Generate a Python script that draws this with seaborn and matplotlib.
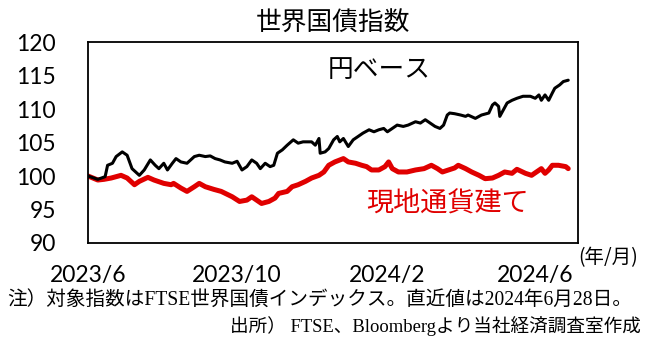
import matplotlib
matplotlib.use("Agg")
import matplotlib.pyplot as plt
import pandas as pd
import seaborn as sns

# 世界国債指数（FTSE世界国債インデックス、2023/6初=100）
title = "世界国債指数"

yen_dates = [
    "2023-06-01", "2023-06-09", "2023-06-15", "2023-06-17", "2023-06-21", "2023-06-24",
    "2023-06-29", "2023-07-03", "2023-07-07", "2023-07-10", "2023-07-13", "2023-07-17",
    "2023-07-22", "2023-07-26", "2023-07-29", "2023-08-02", "2023-08-05", "2023-08-09",
    "2023-08-12", "2023-08-16", "2023-08-21", "2023-08-27", "2023-08-31", "2023-09-05",
    "2023-09-09", "2023-09-13", "2023-09-17", "2023-09-21", "2023-09-27", "2023-10-01",
    "2023-10-05", "2023-10-09", "2023-10-13", "2023-10-17", "2023-10-20", "2023-10-24",
    "2023-10-28", "2023-10-31", "2023-11-03", "2023-11-07", "2023-11-11", "2023-11-16",
    "2023-11-20", "2023-11-24", "2023-12-01", "2023-12-04", "2023-12-07", "2023-12-08",
    "2023-12-12", "2023-12-15", "2023-12-19", "2023-12-22", "2023-12-24", "2023-12-27",
    "2023-12-31", "2024-01-04", "2024-01-08", "2024-01-12", "2024-01-17", "2024-01-21",
    "2024-01-25", "2024-01-29", "2024-02-01", "2024-02-05", "2024-02-09", "2024-02-14",
    "2024-02-18", "2024-02-24", "2024-02-28", "2024-03-03", "2024-03-07", "2024-03-11",
    "2024-03-15", "2024-03-18", "2024-03-21", "2024-03-23", "2024-03-27", "2024-04-01",
    "2024-04-05", "2024-04-07", "2024-04-13", "2024-04-18", "2024-04-24", "2024-04-27",
    "2024-04-29", "2024-05-02", "2024-05-03", "2024-05-06", "2024-05-09", "2024-05-13",
    "2024-05-17", "2024-05-22", "2024-05-28", "2024-06-01", "2024-06-04", "2024-06-06",
    "2024-06-09", "2024-06-12", "2024-06-15", "2024-06-17", "2024-06-21", "2024-06-24",
    "2024-06-28",
]
yen_values = [
    100.0, 99.5, 99.9, 101.6, 101.9, 102.9,
    103.6, 103.1, 101.1, 100.6, 100.1, 100.9,
    102.4, 101.6, 101.1, 101.9, 100.9, 101.9,
    102.6, 102.1, 101.9, 102.9, 103.1, 102.9,
    103.0, 102.6, 102.4, 102.1, 101.9, 102.2,
    100.9, 101.4, 102.4, 101.9, 101.1, 101.9,
    101.4, 101.6, 103.4, 103.9, 104.6, 105.4,
    104.9, 105.1, 105.1, 104.6, 105.6, 103.4,
    103.6, 104.1, 105.4, 105.9, 105.1, 105.6,
    104.4, 105.4, 105.9, 106.4, 106.9, 106.6,
    106.9, 107.1, 106.6, 107.1, 107.6, 107.4,
    107.6, 108.1, 107.9, 108.4, 107.9, 107.4,
    107.1, 107.6, 109.1, 109.4, 109.3, 109.1,
    108.9, 109.1, 108.6, 109.1, 109.4, 110.6,
    110.9, 110.4, 108.9, 109.9, 110.9, 111.3,
    111.6, 111.9, 111.9, 111.6, 112.1, 111.3,
    112.1, 111.3, 112.4, 113.1, 113.6, 114.1,
    114.3,
]

local_dates = [
    "2023-06-01", "2023-06-09", "2023-06-14", "2023-06-20", "2023-06-28", "2023-07-03",
    "2023-07-09", "2023-07-13", "2023-07-20", "2023-07-25", "2023-08-02", "2023-08-08",
    "2023-08-10", "2023-08-16", "2023-08-21", "2023-08-27", "2023-08-31", "2023-09-05",
    "2023-09-12", "2023-09-18", "2023-09-27", "2023-10-03", "2023-10-09", "2023-10-13",
    "2023-10-17", "2023-10-21", "2023-10-27", "2023-11-01", "2023-11-04", "2023-11-11",
    "2023-11-15", "2023-11-20", "2023-11-26", "2023-12-01", "2023-12-07", "2023-12-11",
    "2023-12-15", "2023-12-20", "2023-12-27", "2023-12-31", "2024-01-06", "2024-01-11",
    "2024-01-15", "2024-01-19", "2024-01-25", "2024-01-30", "2024-02-02", "2024-02-05",
    "2024-02-10", "2024-02-17", "2024-02-24", "2024-03-02", "2024-03-08", "2024-03-13",
    "2024-03-17", "2024-03-22", "2024-03-27", "2024-03-30", "2024-04-05", "2024-04-10",
    "2024-04-16", "2024-04-21", "2024-04-27", "2024-05-02", "2024-05-07", "2024-05-13",
    "2024-05-17", "2024-05-24", "2024-05-29", "2024-06-02", "2024-06-06", "2024-06-09",
    "2024-06-12", "2024-06-15", "2024-06-20", "2024-06-26", "2024-06-28",
]
local_values = [
    100.0, 99.4, 99.5, 99.7, 100.1, 99.7,
    98.7, 99.2, 99.8, 99.4, 98.9, 98.7,
    98.9, 98.2, 97.7, 98.4, 98.9, 98.4,
    98.0, 97.7, 96.9, 96.2, 96.4, 96.9,
    96.4, 95.9, 96.2, 96.7, 97.4, 97.7,
    98.4, 98.7, 99.2, 99.7, 100.1, 100.6,
    101.6, 102.1, 102.6, 102.1, 101.9, 101.6,
    101.4, 100.9, 100.9, 101.4, 102.1, 101.1,
    100.6, 100.6, 100.9, 101.1, 101.6, 101.1,
    100.6, 100.9, 101.2, 101.6, 101.1, 100.6,
    100.1, 99.6, 99.7, 100.1, 100.6, 100.4,
    101.0, 100.4, 100.1, 100.6, 101.1, 100.4,
    100.9, 101.6, 101.6, 101.4, 101.1,
]

yen_label = "円ベース"
local_label = "現地通貨建て"
y_ticks = [90, 95, 100, 105, 110, 115, 120]
x_tick_dates = ["2023-06-01", "2023-08-01", "2023-10-01", "2023-12-01",
                "2024-02-01", "2024-04-01", "2024-06-01"]
x_tick_labels = ["2023/6", "", "2023/10", "", "2024/2", "", "2024/6"]
x_range = ["2023-06-01", "2024-07-06"]
unit_label = "(年/月)"
note_text = "注）対象指数はFTSE世界国債インデックス。直近値は2024年6月28日。"
source_text = "出所） FTSE、Bloombergより当社経済調査室作成"

sns.set_theme(style="white")
plt.rcParams["font.family"] = ["Noto Sans CJK JP", "DejaVu Sans"]

yen = pd.DataFrame({"date": pd.to_datetime(yen_dates), "value": yen_values})
local = pd.DataFrame({"date": pd.to_datetime(local_dates), "value": local_values})

fig = plt.figure(figsize=(6.54, 3.41), dpi=100)
ax = fig.add_axes([0.1346, 0.2874, 0.7492, 0.5894])

sns.lineplot(data=local, x="date", y="value", ax=ax, color="#E00000",
             linewidth=3.6, solid_joinstyle="round")
sns.lineplot(data=yen, x="date", y="value", ax=ax, color="black",
             linewidth=2.2, solid_joinstyle="round")

ax.set_xlim(pd.to_datetime(x_range[0]), pd.to_datetime(x_range[1]))
ax.set_ylim(y_ticks[0], y_ticks[-1])
ax.set_yticks(y_ticks)
ax.set_xticks(pd.to_datetime(x_tick_dates))
ax.set_xticklabels(x_tick_labels)
ax.set_xlabel("")
ax.set_ylabel("")

tick_family = ["Lato", "DejaVu Sans"]
for lbl in ax.get_xticklabels() + ax.get_yticklabels():
    lbl.set_fontfamily(tick_family)
    lbl.set_fontsize(16.5)
    lbl.set_color("black")

ax.tick_params(axis="x", direction="in", length=5, width=1.0, color="black", pad=16)
ax.tick_params(axis="y", direction="in", length=5, width=1.0, color="black", pad=23)

for side in ["left", "right", "top", "bottom"]:
    ax.spines[side].set_visible(True)
    ax.spines[side].set_color("black")
    ax.spines[side].set_linewidth(1.3)

ax.set_title(title, fontsize=18.5, pad=8, color="black")

ax.text(pd.to_datetime("2023-12-14"), 115.8, yen_label, fontsize=18.5,
        color="black", va="center", ha="left")
ax.text(pd.to_datetime("2024-01-15"), 95.75, local_label, fontsize=19.5,
        color="#E00000", va="center", ha="left")

fig.text(578 / 654, 1 - 258 / 341, unit_label, fontsize=14, ha="left",
         va="center", color="black")
foot_family = ["Liberation Serif", "Noto Sans CJK JP"]
fig.text(7 / 654, 1 - 300 / 341, note_text, fontsize=14.1, ha="left",
         va="center", family=foot_family, color="black")
fig.text(641 / 654, 1 - 326 / 341, source_text, fontsize=13.4, ha="right",
         va="center", family=foot_family, color="black")

fig.savefig("out.png", dpi=100)
